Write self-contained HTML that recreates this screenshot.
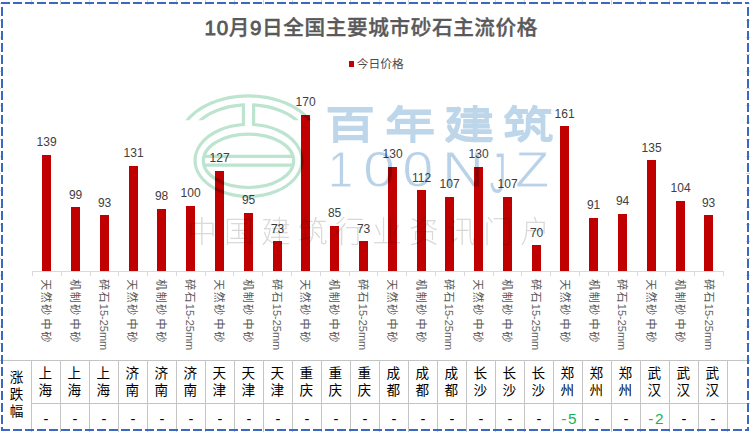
<!DOCTYPE html>
<html lang="zh"><head><meta charset="utf-8"><title>10月9日全国主要城市砂石主流价格</title>
<style>html,body{margin:0;padding:0;background:#fff}body{width:750px;height:432px;overflow:hidden}svg{display:block}text{font-family:"Liberation Sans", "Noto Sans CJK SC", sans-serif}.wm{mix-blend-mode:multiply}.sf{font-family:"Liberation Serif", "Noto Serif CJK SC", serif}</style></head><body>
<svg width="750" height="432" viewBox="0 0 750 432">
<rect width="750" height="432" fill="#fff"/>
<g stroke="#C4C4C4" stroke-width="1" shape-rendering="crispEdges">
<line x1="0" y1="360.5" x2="750" y2="360.5"/>
<line x1="32" y1="403.5" x2="750" y2="403.5"/>
<line x1="31.5" y1="360" x2="31.5" y2="432"/>
<line x1="60.5" y1="360" x2="60.5" y2="432"/>
<line x1="89.5" y1="360" x2="89.5" y2="432"/>
<line x1="118.5" y1="360" x2="118.5" y2="432"/>
<line x1="147.5" y1="360" x2="147.5" y2="432"/>
<line x1="176.5" y1="360" x2="176.5" y2="432"/>
<line x1="205.5" y1="360" x2="205.5" y2="432"/>
<line x1="234.5" y1="360" x2="234.5" y2="432"/>
<line x1="263.5" y1="360" x2="263.5" y2="432"/>
<line x1="292.5" y1="360" x2="292.5" y2="432"/>
<line x1="321.5" y1="360" x2="321.5" y2="432"/>
<line x1="350.5" y1="360" x2="350.5" y2="432"/>
<line x1="379.5" y1="360" x2="379.5" y2="432"/>
<line x1="408.5" y1="360" x2="408.5" y2="432"/>
<line x1="437.5" y1="360" x2="437.5" y2="432"/>
<line x1="466.5" y1="360" x2="466.5" y2="432"/>
<line x1="495.5" y1="360" x2="495.5" y2="432"/>
<line x1="524.5" y1="360" x2="524.5" y2="432"/>
<line x1="553.5" y1="360" x2="553.5" y2="432"/>
<line x1="582.5" y1="360" x2="582.5" y2="432"/>
<line x1="611.5" y1="360" x2="611.5" y2="432"/>
<line x1="640.5" y1="360" x2="640.5" y2="432"/>
<line x1="669.5" y1="360" x2="669.5" y2="432"/>
<line x1="698.5" y1="360" x2="698.5" y2="432"/>
<line x1="727.5" y1="360" x2="727.5" y2="432"/>
</g>
<g stroke="#D9D9D9" stroke-width="1" shape-rendering="crispEdges">
<line x1="32" y1="271.5" x2="724" y2="271.5"/>
<line x1="32.5" y1="271" x2="32.5" y2="275.6"/>
<line x1="61.5" y1="271" x2="61.5" y2="275.6"/>
<line x1="90.5" y1="271" x2="90.5" y2="275.6"/>
<line x1="118.5" y1="271" x2="118.5" y2="275.6"/>
<line x1="147.5" y1="271" x2="147.5" y2="275.6"/>
<line x1="176.5" y1="271" x2="176.5" y2="275.6"/>
<line x1="205.5" y1="271" x2="205.5" y2="275.6"/>
<line x1="233.5" y1="271" x2="233.5" y2="275.6"/>
<line x1="262.5" y1="271" x2="262.5" y2="275.6"/>
<line x1="291.5" y1="271" x2="291.5" y2="275.6"/>
<line x1="320.5" y1="271" x2="320.5" y2="275.6"/>
<line x1="349.5" y1="271" x2="349.5" y2="275.6"/>
<line x1="377.5" y1="271" x2="377.5" y2="275.6"/>
<line x1="406.5" y1="271" x2="406.5" y2="275.6"/>
<line x1="435.5" y1="271" x2="435.5" y2="275.6"/>
<line x1="464.5" y1="271" x2="464.5" y2="275.6"/>
<line x1="493.5" y1="271" x2="493.5" y2="275.6"/>
<line x1="521.5" y1="271" x2="521.5" y2="275.6"/>
<line x1="550.5" y1="271" x2="550.5" y2="275.6"/>
<line x1="579.5" y1="271" x2="579.5" y2="275.6"/>
<line x1="608.5" y1="271" x2="608.5" y2="275.6"/>
<line x1="637.5" y1="271" x2="637.5" y2="275.6"/>
<line x1="665.5" y1="271" x2="665.5" y2="275.6"/>
<line x1="694.5" y1="271" x2="694.5" y2="275.6"/>
<line x1="723.5" y1="271" x2="723.5" y2="275.6"/>
</g>
<g fill="#C00000" shape-rendering="crispEdges">
<rect x="42" y="155.0" width="9" height="116.0"/>
<rect x="71" y="207.0" width="9" height="64.0"/>
<rect x="100" y="215.0" width="9" height="56.0"/>
<rect x="129" y="166.0" width="9" height="105.0"/>
<rect x="157" y="209.0" width="9" height="62.0"/>
<rect x="186" y="206.0" width="9" height="65.0"/>
<rect x="215" y="171.0" width="9" height="100.0"/>
<rect x="244" y="213.0" width="9" height="58.0"/>
<rect x="273" y="241.0" width="9" height="30.0"/>
<rect x="301" y="115.0" width="9" height="156.0"/>
<rect x="330" y="226.0" width="9" height="45.0"/>
<rect x="359" y="241.0" width="9" height="30.0"/>
<rect x="388" y="167.0" width="9" height="104.0"/>
<rect x="417" y="190.0" width="9" height="81.0"/>
<rect x="445" y="197.0" width="9" height="74.0"/>
<rect x="474" y="167.0" width="9" height="104.0"/>
<rect x="503" y="197.0" width="9" height="74.0"/>
<rect x="532" y="245.0" width="9" height="26.0"/>
<rect x="560" y="126.0" width="9" height="145.0"/>
<rect x="589" y="218.0" width="9" height="53.0"/>
<rect x="618" y="214.0" width="9" height="57.0"/>
<rect x="647" y="160.0" width="9" height="111.0"/>
<rect x="676" y="201.0" width="9" height="70.0"/>
<rect x="704" y="215.0" width="9" height="56.0"/>
</g>
<g font-size="12" fill="#404040" text-anchor="middle">
<text x="46.6" y="145.7">139</text>
<text x="75.6" y="198.7">99</text>
<text x="104.6" y="206.5">93</text>
<text x="133.6" y="157.0">131</text>
<text x="161.6" y="200.0">98</text>
<text x="190.6" y="197.4">100</text>
<text x="219.6" y="162.2">127</text>
<text x="248.6" y="203.9">95</text>
<text x="277.6" y="232.6">73</text>
<text x="305.6" y="106.1">170</text>
<text x="334.6" y="217.0">85</text>
<text x="363.6" y="232.6">73</text>
<text x="392.6" y="158.3">130</text>
<text x="421.6" y="181.8">112</text>
<text x="449.6" y="188.3">107</text>
<text x="478.6" y="158.3">130</text>
<text x="507.6" y="188.3">107</text>
<text x="536.6" y="236.5">70</text>
<text x="564.6" y="117.9">161</text>
<text x="593.6" y="209.1">91</text>
<text x="622.6" y="205.2">94</text>
<text x="651.6" y="151.8">135</text>
<text x="680.6" y="192.2">104</text>
<text x="708.6" y="206.5">93</text>
</g>
<g font-size="11" fill="#565656" font-weight="400">
<text transform="translate(45.9,279.3) rotate(90)" x="0.00 12.45 24.90 37.35 39.25 52.20" y="4">天然砂 中砂</text>
<text transform="translate(74.7,279.3) rotate(90)" x="0.00 12.45 24.90 37.35 39.25 52.20" y="4">机制砂 中砂</text>
<text transform="translate(103.5,279.3) rotate(90)" y="4"><tspan x="0 12.15">碎石</tspan><tspan x="24.50" font-size="10.4" font-weight="400" fill="#646464" textLength="46.4" lengthAdjust="spacingAndGlyphs">15-25mm</tspan></text>
<text transform="translate(132.4,279.3) rotate(90)" x="0.00 12.45 24.90 37.35 39.25 52.20" y="4">天然砂 中砂</text>
<text transform="translate(161.2,279.3) rotate(90)" x="0.00 12.45 24.90 37.35 39.25 52.20" y="4">机制砂 中砂</text>
<text transform="translate(190.0,279.3) rotate(90)" y="4"><tspan x="0 12.15">碎石</tspan><tspan x="24.50" font-size="10.4" font-weight="400" fill="#646464" textLength="46.4" lengthAdjust="spacingAndGlyphs">15-25mm</tspan></text>
<text transform="translate(218.8,279.3) rotate(90)" x="0.00 12.45 24.90 37.35 39.25 52.20" y="4">天然砂 中砂</text>
<text transform="translate(247.6,279.3) rotate(90)" x="0.00 12.45 24.90 37.35 39.25 52.20" y="4">机制砂 中砂</text>
<text transform="translate(276.5,279.3) rotate(90)" y="4"><tspan x="0 12.15">碎石</tspan><tspan x="24.50" font-size="10.4" font-weight="400" fill="#646464" textLength="46.4" lengthAdjust="spacingAndGlyphs">15-25mm</tspan></text>
<text transform="translate(305.3,279.3) rotate(90)" x="0.00 12.45 24.90 37.35 39.25 52.20" y="4">天然砂 中砂</text>
<text transform="translate(334.1,279.3) rotate(90)" x="0.00 12.45 24.90 37.35 39.25 52.20" y="4">机制砂 中砂</text>
<text transform="translate(362.9,279.3) rotate(90)" y="4"><tspan x="0 12.15">碎石</tspan><tspan x="24.50" font-size="10.4" font-weight="400" fill="#646464" textLength="46.4" lengthAdjust="spacingAndGlyphs">15-25mm</tspan></text>
<text transform="translate(391.7,279.3) rotate(90)" x="0.00 12.45 24.90 37.35 39.25 52.20" y="4">天然砂 中砂</text>
<text transform="translate(420.6,279.3) rotate(90)" x="0.00 12.45 24.90 37.35 39.25 52.20" y="4">机制砂 中砂</text>
<text transform="translate(449.4,279.3) rotate(90)" y="4"><tspan x="0 12.15">碎石</tspan><tspan x="24.50" font-size="10.4" font-weight="400" fill="#646464" textLength="46.4" lengthAdjust="spacingAndGlyphs">15-25mm</tspan></text>
<text transform="translate(478.2,279.3) rotate(90)" x="0.00 12.45 24.90 37.35 39.25 52.20" y="4">天然砂 中砂</text>
<text transform="translate(507.0,279.3) rotate(90)" x="0.00 12.45 24.90 37.35 39.25 52.20" y="4">机制砂 中砂</text>
<text transform="translate(535.8,279.3) rotate(90)" y="4"><tspan x="0 12.15">碎石</tspan><tspan x="24.50" font-size="10.4" font-weight="400" fill="#646464" textLength="46.4" lengthAdjust="spacingAndGlyphs">15-25mm</tspan></text>
<text transform="translate(564.7,279.3) rotate(90)" x="0.00 12.45 24.90 37.35 39.25 52.20" y="4">天然砂 中砂</text>
<text transform="translate(593.5,279.3) rotate(90)" x="0.00 12.45 24.90 37.35 39.25 52.20" y="4">机制砂 中砂</text>
<text transform="translate(622.3,279.3) rotate(90)" y="4"><tspan x="0 12.15">碎石</tspan><tspan x="24.50" font-size="10.4" font-weight="400" fill="#646464" textLength="46.4" lengthAdjust="spacingAndGlyphs">15-25mm</tspan></text>
<text transform="translate(651.1,279.3) rotate(90)" x="0.00 12.45 24.90 37.35 39.25 52.20" y="4">天然砂 中砂</text>
<text transform="translate(679.9,279.3) rotate(90)" x="0.00 12.45 24.90 37.35 39.25 52.20" y="4">机制砂 中砂</text>
<text transform="translate(708.8,279.3) rotate(90)" y="4"><tspan x="0 12.15">碎石</tspan><tspan x="24.50" font-size="10.4" font-weight="400" fill="#646464" textLength="46.4" lengthAdjust="spacingAndGlyphs">15-25mm</tspan></text>
</g>
<text x="204.6" y="34.6" font-size="20.6" font-weight="500" fill="#595959" stroke="#595959" stroke-width="0.35" textLength="332.8" lengthAdjust="spacing"><tspan stroke-width="0.8">10</tspan>月<tspan stroke-width="0.8">9</tspan>日全国主要城市砂石主流价格</text>
<rect x="349" y="61" width="5" height="6" fill="#C00000"/>
<text x="356.8" y="67.7" font-size="11.8" fill="#4C4C4C" textLength="47" lengthAdjust="spacing">今日价格</text>
<g font-size="13.6" fill="#000" font-weight="400" text-anchor="middle">
<text><tspan x="45.2" y="378.4">上</tspan><tspan x="45.2" y="394.6">海</tspan></text>
<text x="45.9" y="424" font-size="14.67">-</text>
<text><tspan x="74.2" y="378.4">上</tspan><tspan x="74.2" y="394.6">海</tspan></text>
<text x="74.9" y="424" font-size="14.67">-</text>
<text><tspan x="103.2" y="378.4">上</tspan><tspan x="103.2" y="394.6">海</tspan></text>
<text x="103.9" y="424" font-size="14.67">-</text>
<text><tspan x="132.2" y="378.4">济</tspan><tspan x="132.2" y="394.6">南</tspan></text>
<text x="132.9" y="424" font-size="14.67">-</text>
<text><tspan x="161.2" y="378.4">济</tspan><tspan x="161.2" y="394.6">南</tspan></text>
<text x="161.9" y="424" font-size="14.67">-</text>
<text><tspan x="190.2" y="378.4">济</tspan><tspan x="190.2" y="394.6">南</tspan></text>
<text x="190.9" y="424" font-size="14.67">-</text>
<text><tspan x="219.2" y="378.4">天</tspan><tspan x="219.2" y="394.6">津</tspan></text>
<text x="219.9" y="424" font-size="14.67">-</text>
<text><tspan x="248.2" y="378.4">天</tspan><tspan x="248.2" y="394.6">津</tspan></text>
<text x="248.9" y="424" font-size="14.67">-</text>
<text><tspan x="277.2" y="378.4">天</tspan><tspan x="277.2" y="394.6">津</tspan></text>
<text x="277.9" y="424" font-size="14.67">-</text>
<text><tspan x="306.2" y="378.4">重</tspan><tspan x="306.2" y="394.6">庆</tspan></text>
<text x="306.9" y="424" font-size="14.67">-</text>
<text><tspan x="335.2" y="378.4">重</tspan><tspan x="335.2" y="394.6">庆</tspan></text>
<text x="335.9" y="424" font-size="14.67">-</text>
<text><tspan x="364.2" y="378.4">重</tspan><tspan x="364.2" y="394.6">庆</tspan></text>
<text x="364.9" y="424" font-size="14.67">-</text>
<text><tspan x="393.2" y="378.4">成</tspan><tspan x="393.2" y="394.6">都</tspan></text>
<text x="393.9" y="424" font-size="14.67">-</text>
<text><tspan x="422.2" y="378.4">成</tspan><tspan x="422.2" y="394.6">都</tspan></text>
<text x="422.9" y="424" font-size="14.67">-</text>
<text><tspan x="451.2" y="378.4">成</tspan><tspan x="451.2" y="394.6">都</tspan></text>
<text x="451.9" y="424" font-size="14.67">-</text>
<text><tspan x="480.2" y="378.4">长</tspan><tspan x="480.2" y="394.6">沙</tspan></text>
<text x="480.9" y="424" font-size="14.67">-</text>
<text><tspan x="509.2" y="378.4">长</tspan><tspan x="509.2" y="394.6">沙</tspan></text>
<text x="509.9" y="424" font-size="14.67">-</text>
<text><tspan x="538.2" y="378.4">长</tspan><tspan x="538.2" y="394.6">沙</tspan></text>
<text x="538.9" y="424" font-size="14.67">-</text>
<text><tspan x="567.2" y="378.4">郑</tspan><tspan x="567.2" y="394.6">州</tspan></text>
<text x="561.2 568.0" y="424.1" font-size="15.3" fill="#10B45A" text-anchor="start">-5</text>
<text><tspan x="596.2" y="378.4">郑</tspan><tspan x="596.2" y="394.6">州</tspan></text>
<text x="596.9" y="424" font-size="14.67">-</text>
<text><tspan x="625.2" y="378.4">郑</tspan><tspan x="625.2" y="394.6">州</tspan></text>
<text x="625.9" y="424" font-size="14.67">-</text>
<text><tspan x="654.2" y="378.4">武</tspan><tspan x="654.2" y="394.6">汉</tspan></text>
<text x="648.2 655.0" y="424.1" font-size="15.3" fill="#10B45A" text-anchor="start">-2</text>
<text><tspan x="683.2" y="378.4">武</tspan><tspan x="683.2" y="394.6">汉</tspan></text>
<text x="683.9" y="424" font-size="14.67">-</text>
<text><tspan x="712.2" y="378.4">武</tspan><tspan x="712.2" y="394.6">汉</tspan></text>
<text x="712.9" y="424" font-size="14.67">-</text>
<text><tspan x="16.6" y="382.4">涨</tspan><tspan x="16.6" y="399.2">跌</tspan><tspan x="16.6" y="416.0">幅</tspan></text>
</g>
<g class="wm">
<clipPath id="lc"><rect x="0" y="0" width="750" height="120.2"/><rect x="207" y="0" width="83" height="260"/><rect x="0" y="126" width="750" height="120"/></clipPath>
<g fill="none" stroke="#BDE4CE" stroke-width="3.2">
<g clip-path="url(#lc)">
<path d="M185.5,122.6 A70,47.5 0 0 1 311.5,122.6"/>
<path d="M197.5,123.1 A59,37 0 0 1 243.4,104.84 V124.5 A53.5,36.1 0 1 0 253.6,124.5 V104.84 A59,37 0 0 1 299.5,123.1"/>
</g>
<ellipse cx="248.5" cy="160.8" rx="45.2" ry="26.7"/>
<line x1="204" y1="156.3" x2="293" y2="156.3"/>
<line x1="204" y1="165.2" x2="293" y2="165.2"/>
</g>
<filter id="vd" x="-5%" y="-10%" width="110%" height="120%"><feMorphology operator="dilate" radius="0 1"/></filter>
<text transform="translate(0,137.6) scale(1.37,1)" x="236.86 280.66 323.72 366.79" y="0" fill="#BDD6EA" font-weight="500" font-size="37.5" filter="url(#vd)">百年建筑</text>
<text fill="#BAD2E7" stroke="#fff" stroke-width="0.8" paint-order="fill stroke" font-size="50.2"><tspan x="328.0" y="187.3" font-size="50.2" textLength="25.12" lengthAdjust="spacingAndGlyphs">1</tspan><tspan x="363.3" y="187.3" font-size="50.2" textLength="31.82" lengthAdjust="spacingAndGlyphs">0</tspan><tspan x="402.5" y="187.3" font-size="50.2" textLength="30.70" lengthAdjust="spacingAndGlyphs">0</tspan><tspan x="442.0" y="187.3" font-size="50.2" textLength="42.04" lengthAdjust="spacingAndGlyphs">N</tspan><tspan x="489.5" y="193.0" font-size="58.2" textLength="17.06" lengthAdjust="spacingAndGlyphs">J</tspan><tspan x="515.0" y="187.3" font-size="50.2" textLength="34.35" lengthAdjust="spacingAndGlyphs">Z</tspan></text>
<text x="187.2" y="242.2" font-size="29.3" font-weight="100" fill="#D7D7D7" stroke="#D7D7D7" stroke-width="0.3" textLength="362.5" lengthAdjust="spacing">中国建筑行业资讯门户</text>
</g>
<g stroke="#D6D6D6" stroke-width="1" shape-rendering="crispEdges">
<line x1="31.5" y1="0" x2="31.5" y2="5"/>
<line x1="60.5" y1="0" x2="60.5" y2="5"/>
<line x1="89.5" y1="0" x2="89.5" y2="5"/>
<line x1="118.5" y1="0" x2="118.5" y2="5"/>
<line x1="147.5" y1="0" x2="147.5" y2="5"/>
<line x1="176.5" y1="0" x2="176.5" y2="5"/>
<line x1="205.5" y1="0" x2="205.5" y2="5"/>
<line x1="234.5" y1="0" x2="234.5" y2="5"/>
<line x1="263.5" y1="0" x2="263.5" y2="5"/>
<line x1="292.5" y1="0" x2="292.5" y2="5"/>
<line x1="321.5" y1="0" x2="321.5" y2="5"/>
<line x1="350.5" y1="0" x2="350.5" y2="5"/>
<line x1="379.5" y1="0" x2="379.5" y2="5"/>
<line x1="408.5" y1="0" x2="408.5" y2="5"/>
<line x1="437.5" y1="0" x2="437.5" y2="5"/>
<line x1="466.5" y1="0" x2="466.5" y2="5"/>
<line x1="495.5" y1="0" x2="495.5" y2="5"/>
<line x1="524.5" y1="0" x2="524.5" y2="5"/>
<line x1="553.5" y1="0" x2="553.5" y2="5"/>
<line x1="582.5" y1="0" x2="582.5" y2="5"/>
<line x1="611.5" y1="0" x2="611.5" y2="5"/>
<line x1="640.5" y1="0" x2="640.5" y2="5"/>
<line x1="669.5" y1="0" x2="669.5" y2="5"/>
<line x1="698.5" y1="0" x2="698.5" y2="5"/>
<line x1="727.5" y1="0" x2="727.5" y2="5"/>
<line x1="0" y1="3.5" x2="1" y2="3.5"/>
<line x1="746" y1="3.5" x2="750" y2="3.5"/>
<line x1="0" y1="20.5" x2="1" y2="20.5"/>
<line x1="746" y1="20.5" x2="750" y2="20.5"/>
<line x1="0" y1="37.5" x2="1" y2="37.5"/>
<line x1="746" y1="37.5" x2="750" y2="37.5"/>
<line x1="0" y1="54.5" x2="1" y2="54.5"/>
<line x1="746" y1="54.5" x2="750" y2="54.5"/>
<line x1="0" y1="71.5" x2="1" y2="71.5"/>
<line x1="746" y1="71.5" x2="750" y2="71.5"/>
<line x1="0" y1="88.5" x2="1" y2="88.5"/>
<line x1="746" y1="88.5" x2="750" y2="88.5"/>
<line x1="0" y1="105.5" x2="1" y2="105.5"/>
<line x1="746" y1="105.5" x2="750" y2="105.5"/>
<line x1="0" y1="122.5" x2="1" y2="122.5"/>
<line x1="746" y1="122.5" x2="750" y2="122.5"/>
<line x1="0" y1="139.5" x2="1" y2="139.5"/>
<line x1="746" y1="139.5" x2="750" y2="139.5"/>
<line x1="0" y1="156.5" x2="1" y2="156.5"/>
<line x1="746" y1="156.5" x2="750" y2="156.5"/>
<line x1="0" y1="173.5" x2="1" y2="173.5"/>
<line x1="746" y1="173.5" x2="750" y2="173.5"/>
<line x1="0" y1="190.5" x2="1" y2="190.5"/>
<line x1="746" y1="190.5" x2="750" y2="190.5"/>
<line x1="0" y1="207.5" x2="1" y2="207.5"/>
<line x1="746" y1="207.5" x2="750" y2="207.5"/>
<line x1="0" y1="224.5" x2="1" y2="224.5"/>
<line x1="746" y1="224.5" x2="750" y2="224.5"/>
<line x1="0" y1="241.5" x2="1" y2="241.5"/>
<line x1="746" y1="241.5" x2="750" y2="241.5"/>
<line x1="0" y1="258.5" x2="1" y2="258.5"/>
<line x1="746" y1="258.5" x2="750" y2="258.5"/>
<line x1="0" y1="275.5" x2="1" y2="275.5"/>
<line x1="746" y1="275.5" x2="750" y2="275.5"/>
<line x1="0" y1="292.5" x2="1" y2="292.5"/>
<line x1="746" y1="292.5" x2="750" y2="292.5"/>
<line x1="0" y1="309.5" x2="1" y2="309.5"/>
<line x1="746" y1="309.5" x2="750" y2="309.5"/>
<line x1="0" y1="326.5" x2="1" y2="326.5"/>
<line x1="746" y1="326.5" x2="750" y2="326.5"/>
<line x1="0" y1="343.5" x2="1" y2="343.5"/>
<line x1="746" y1="343.5" x2="750" y2="343.5"/>
</g>
<g stroke="#3B69C1" stroke-width="2" fill="none" stroke-dasharray="9 3">
<line x1="1" y1="3" x2="749" y2="3"/>
<line x1="1" y1="430" x2="749" y2="430"/>
<line x1="2" y1="7" x2="2" y2="431"/>
<line x1="748" y1="7" x2="748" y2="431"/>
</g>
</svg></body></html>
